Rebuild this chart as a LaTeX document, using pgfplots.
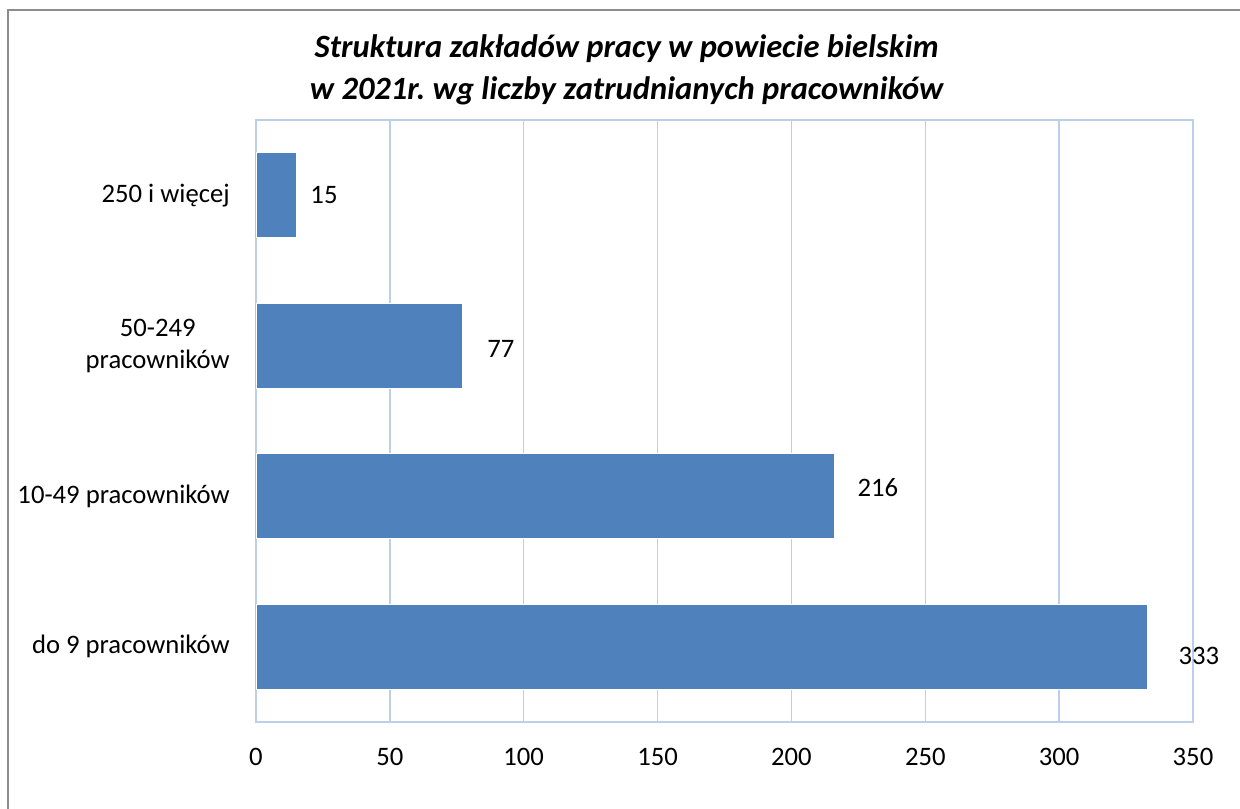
\documentclass[border=0pt]{standalone}
\usepackage{fontspec}
\setmainfont{Carlito}
\usepackage{pgfplots}
\pgfplotsset{compat=1.18}
\definecolor{barblue}{HTML}{4F81BD}
\definecolor{gridblue}{HTML}{BCCFE8}
\definecolor{framegray}{HTML}{8C8C8C}
\frenchspacing
\begin{document}
\begin{tikzpicture}
\useasboundingbox (0,0) rectangle (930pt,606.75pt);
\draw[framegray, line width=1.5pt] (6pt,-2pt) -- (6pt,599.25pt) -- (932pt,599.25pt);
\node[align=center, font=\fontsize{24.4}{31.5}\selectfont\bfseries\itshape] at (470pt,554.5pt)
  {Struktura zakładów pracy w powiecie bielskim\\w 2021r. wg liczby zatrudnianych pracowników};
\begin{axis}[
  at={(192pt,65.25pt)}, anchor=south west,
  scale only axis, width=702.75pt, height=451.5pt,
  xmin=0, xmax=350, ymin=-0.5, ymax=3.5,
  xtick={0,50,...,350},
  ytick={0,1,2,3},
  yticklabels={do 9 pracowników, 10-49 pracowników, {50-249\\pracowników}, 250 i więcej},
  xmajorgrids, grid style={gridblue, line width=1.1pt},
  axis line style={gridblue, line width=1.1pt},
  tick style={draw=none},
  tick label style={font=\fontsize{20}{24}\selectfont},
  xticklabel style={anchor=center, inner sep=0pt, yshift=-26.25pt},
  yticklabel style={anchor=east, align=center, inner sep=0pt, xshift=-19.5pt},
  /pgf/number format/assume math mode=true,
  clip=false,
]
\addplot[xbar, bar width=0.565, fill=barblue, draw=white, line width=0.6pt]
  coordinates {(333,0) (216,1) (77,2) (15,3)};
\addplot[draw=none, mark=none, point meta=explicit symbolic,
  nodes near coords,
  every node near coord/.style={anchor=center, inner sep=0pt, font=\fontsize{20}{24}\selectfont}]
  coordinates {(352.2,-0.06) [333] (232.3,1.055) [216] (91.5,1.98) [77] (25.4,3.0) [15]};
\end{axis}
\end{tikzpicture}
\end{document}
